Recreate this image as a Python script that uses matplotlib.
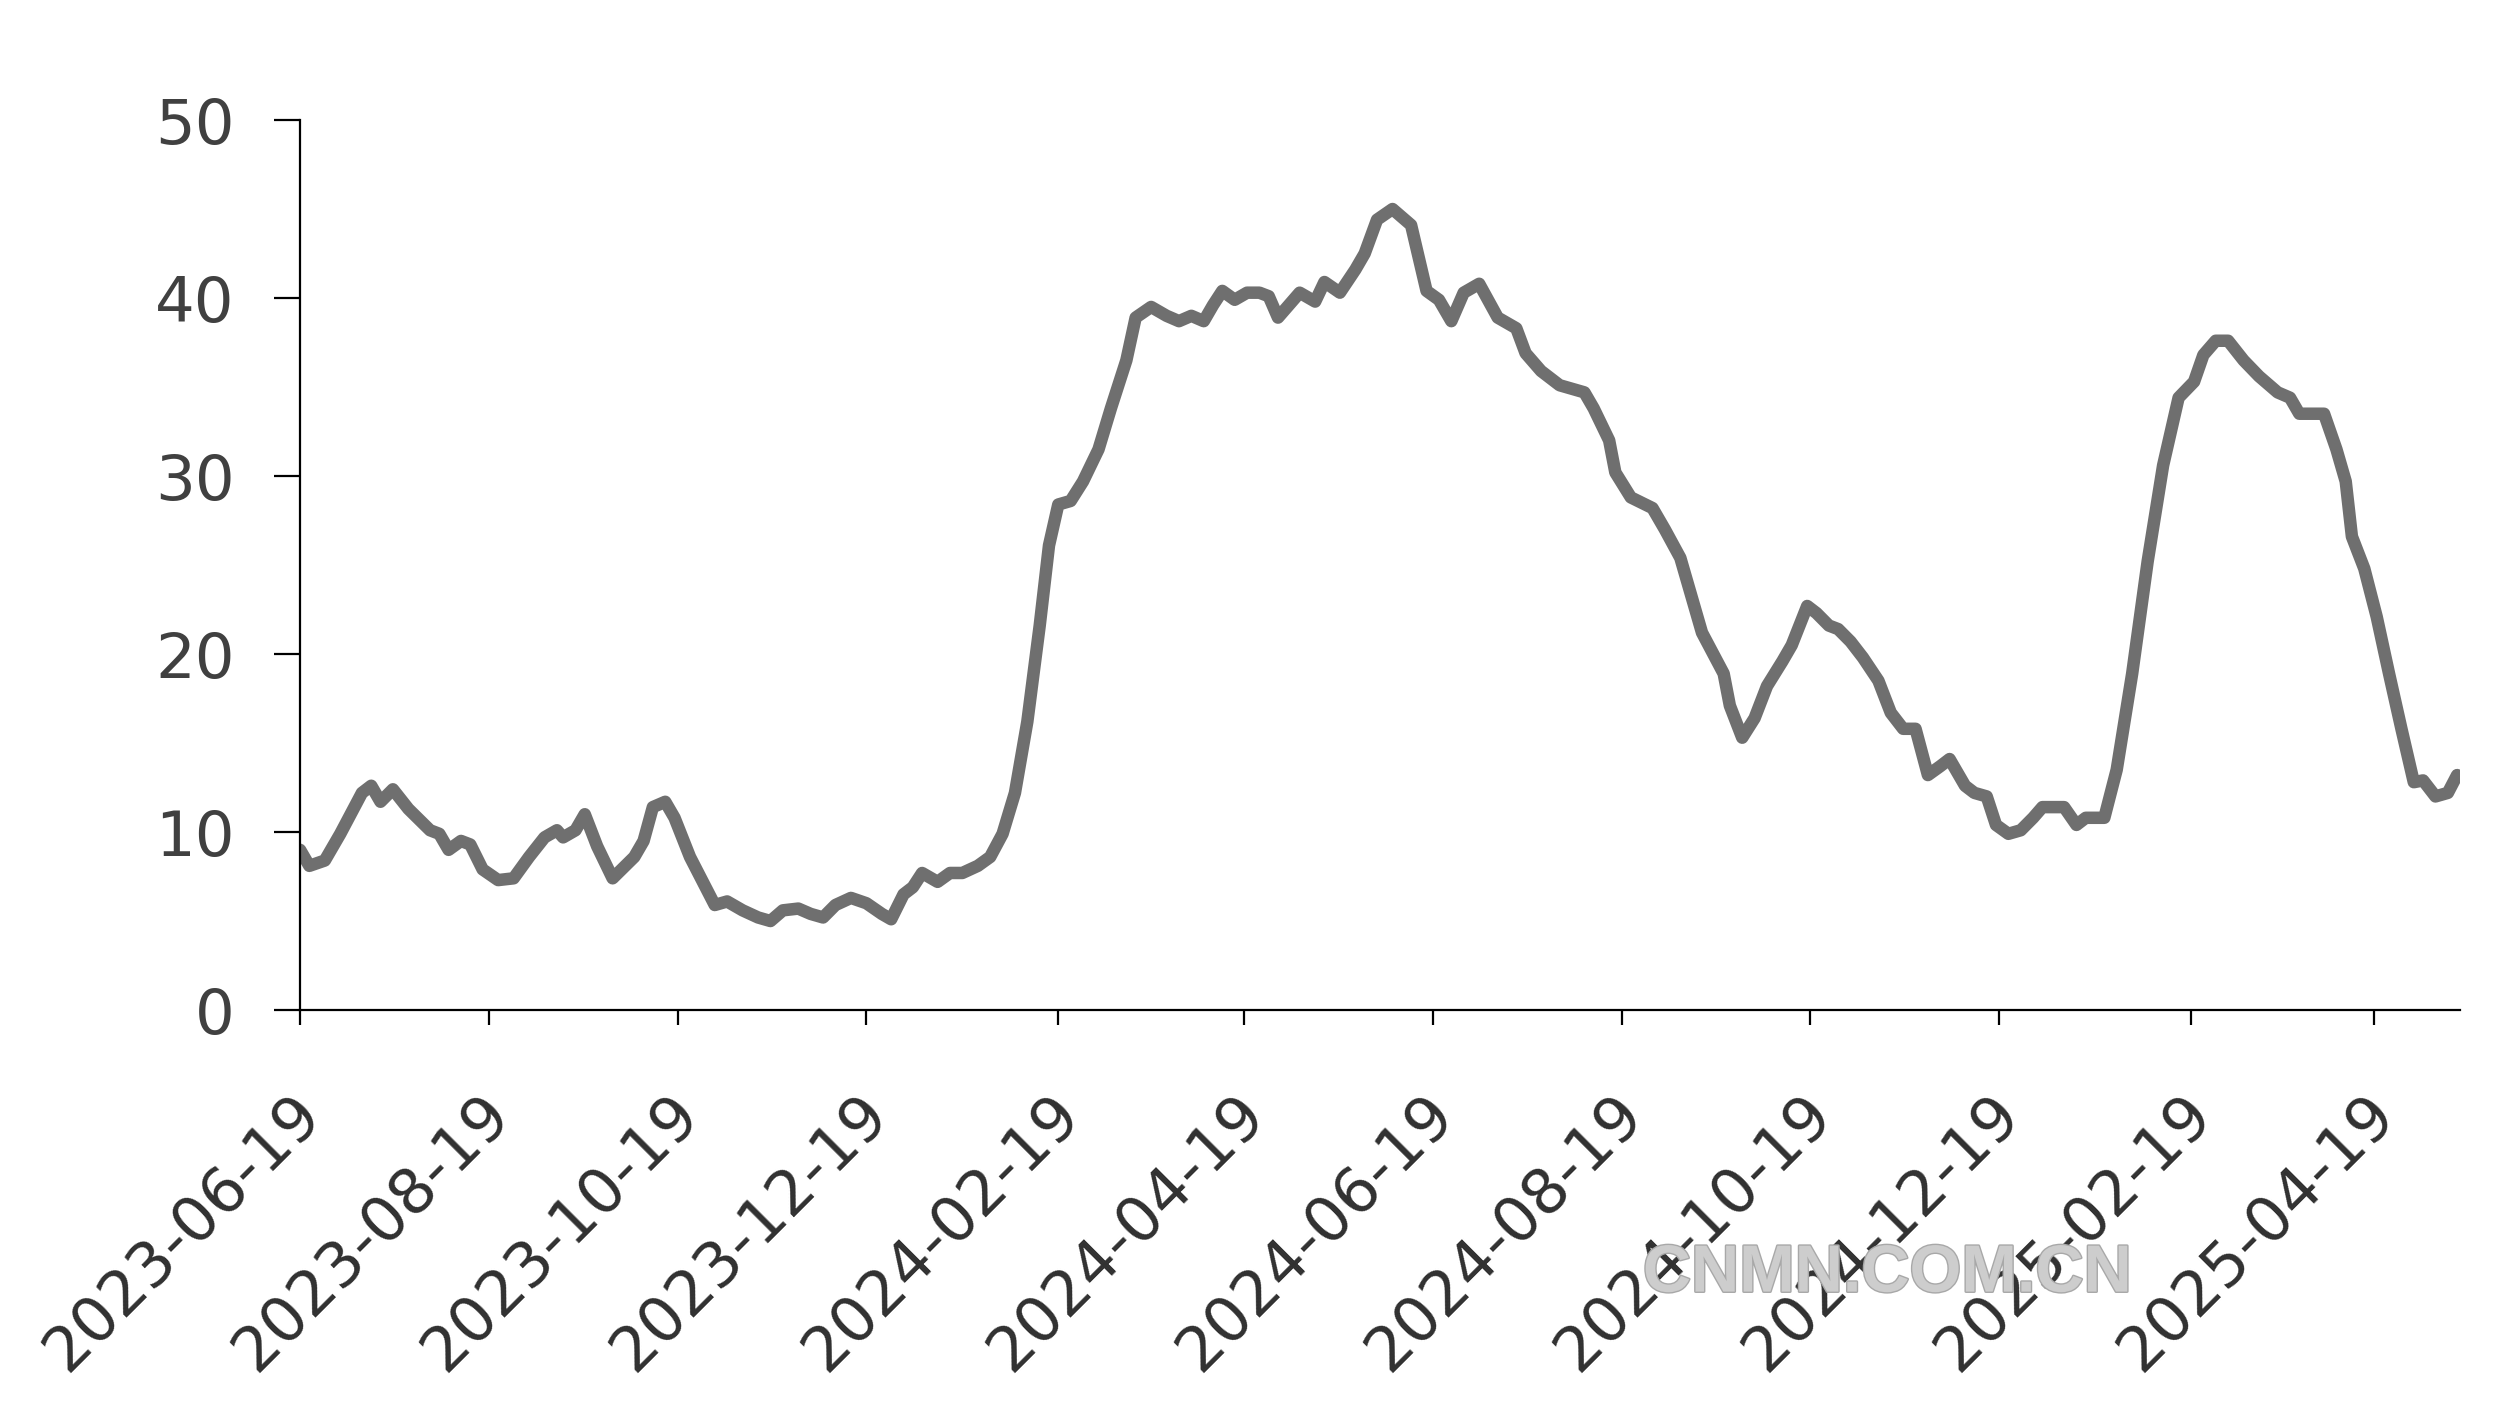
import matplotlib
matplotlib.use("Agg")
import matplotlib.pyplot as plt
import matplotlib.transforms as mtransforms
import matplotlib.patheffects as pe
import pandas as pd

# days counted from 2023-06-19
start = pd.Timestamp("2023-06-19")
days = [0, 3, 8, 13, 20, 23, 26, 30, 35, 42, 45, 48, 52, 55, 59, 64, 69, 74, 79, 83,
        85, 89, 92, 96, 101, 108, 111, 114, 118, 121, 126, 134, 138, 143, 148, 152, 156,
        161, 165, 169, 173, 178, 183, 188, 191, 195, 198, 201, 206, 210, 214, 219, 223,
        227, 231, 235, 239, 242, 245, 249, 253, 258, 262, 267, 270, 275, 280, 284, 288,
        292, 295, 298, 302, 306, 310, 313, 316, 323, 328, 331, 336, 341, 344, 348, 353,
        359, 364, 368, 372, 376, 381, 387, 393, 396, 401, 407, 411, 415, 418, 423, 425,
        430, 437, 441, 446, 450, 453, 460, 462, 466, 470, 474, 479, 482, 487, 490, 494,
        497, 501, 505, 510, 514, 518, 522, 526, 530, 533, 538, 541, 545, 548, 552, 556,
        560, 563, 567, 570, 574, 577, 583, 587, 592, 597, 602, 607, 612, 615, 619, 623,
        628, 633, 639, 643, 646, 652, 654, 658, 661, 663, 667, 671, 675, 679, 683, 686,
        690, 694, 697]
values = [9.0, 8.1, 8.4, 9.9, 12.2, 12.6, 11.7, 12.4, 11.3, 10.1, 9.9, 9.0, 9.5, 9.3,
          7.9, 7.3, 7.4, 8.6, 9.7, 10.1, 9.7, 10.1, 11.0, 9.2, 7.4, 8.6, 9.5, 11.4, 11.7,
          10.8, 8.6, 5.9, 6.1, 5.6, 5.2, 5.0, 5.6, 5.7, 5.4, 5.2, 5.9, 6.3, 6.0, 5.4, 5.1,
          6.5, 6.9, 7.7, 7.2, 7.7, 7.7, 8.1, 8.6, 9.9, 12.2, 16.2, 21.6, 26.1, 28.4, 28.6,
          29.7, 31.5, 33.8, 36.5, 38.9, 39.5, 39.0, 38.7, 39.0, 38.7, 39.6, 40.4, 39.9,
          40.3, 40.3, 40.1, 38.9, 40.3, 39.8, 40.9, 40.3, 41.6, 42.5, 44.4, 45.0, 44.1,
          40.4, 39.9, 38.7, 40.3, 40.8, 38.9, 38.3, 36.9, 35.9, 35.1, 34.9, 34.7, 33.8,
          32.0, 30.2, 28.8, 28.2, 27.0, 25.4, 23.0, 21.2, 18.9, 17.1, 15.3, 16.4, 18.2,
          19.6, 20.5, 22.7, 22.3, 21.6, 21.4, 20.7, 19.8, 18.5, 16.7, 15.8, 15.8, 13.2,
          13.7, 14.1, 12.6, 12.2, 12.0, 10.4, 9.9, 10.1, 10.8, 11.4, 11.4, 11.4, 10.4,
          10.8, 10.8, 13.5, 18.9, 25.2, 30.6, 34.4, 35.3, 36.8, 37.6, 37.6, 36.5, 35.6,
          34.7, 34.4, 33.5, 33.5, 33.5, 31.5, 29.7, 26.6, 24.8, 22.1, 18.9, 15.8, 12.8,
          12.9, 12.0, 12.2, 13.2]
tick_labels = ["2023-06-19", "2023-08-19", "2023-10-19", "2023-12-19", "2024-02-19",
               "2024-04-19", "2024-06-19", "2024-08-19", "2024-10-19", "2024-12-19",
               "2025-02-19", "2025-04-19"]
y_ticks = [0, 10, 20, 30, 40, 50]

dates = start + pd.to_timedelta(days, unit="D")

fig = plt.figure(figsize=(25.13, 14.17), dpi=100)
ax = fig.add_axes([0.1194, 0.2872, 0.8596, 0.6281])

ax.plot(dates, values, color="#6f6f6f", lw=9, solid_joinstyle="round",
        solid_capstyle="round")

ax.set_ylim(0, 50)
ax.set_xlim(start, start + pd.Timedelta(days=698))
ax.set_yticks(y_ticks)
ax.set_xticks(pd.to_datetime(tick_labels))
ax.set_xticklabels(tick_labels, rotation=45, ha="right", rotation_mode="anchor")

for s in ["top", "right"]:
    ax.spines[s].set_visible(False)
for s in ["left", "bottom"]:
    ax.spines[s].set_linewidth(1.6)
    ax.spines[s].set_color("black")

ax.tick_params(axis="y", direction="out", length=19, width=1.6, pad=28,
               labelsize=45, labelcolor="#404040")
ax.tick_params(axis="x", direction="out", length=11, width=1.6, pad=42,
               labelsize=45, labelcolor="#303030")

# nudge the date labels a bit to the left
shift = mtransforms.ScaledTranslation(-7 / 72, 0, fig.dpi_scale_trans)
for lbl in ax.get_xticklabels():
    lbl.set_transform(lbl.get_transform() + shift)

# watermark
fig.text(0.751, 0.1005, "CNMN.COM.CN", ha="center", va="center", fontsize=48,
         fontweight="bold", family="Liberation Sans", color="#cdcdcd",
         path_effects=[pe.withStroke(linewidth=2, foreground="#a8a8a8")])

fig.savefig("out.png", dpi=100)
